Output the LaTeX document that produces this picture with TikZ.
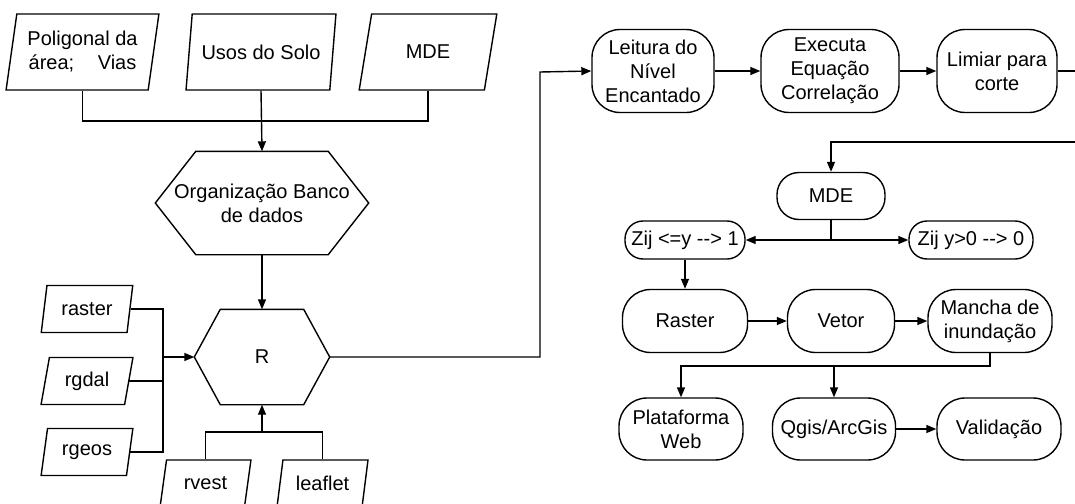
\documentclass[tikz,border=0pt]{standalone}
\usepackage{fontspec}
\setmainfont{Liberation Sans}
\usetikzlibrary{shapes.geometric,arrows.meta}

% hexagon drawn round a plain node: name, depth of the side points
\newcommand{\hexa}[2]{%
  \draw ([xshift=#2]#1.north west) -- ([xshift=-#2]#1.north east) -- (#1.east)
    -- ([xshift=-#2]#1.south east) -- ([xshift=#2]#1.south west) -- (#1.west) -- cycle;}

\begin{document}
\begin{tikzpicture}[x=1pt,y=-1pt,line width=1.4pt,
  >={Triangle[length=10pt,width=8pt]},
  every node/.style={font=\fontsize{20}{24}\selectfont, align=center, inner sep=1pt},
  dado/.style={draw, trapezium, trapezium stretches=true},
  passo/.style={draw, rounded corners=#1},
  passo/.default=28pt]

	\useasboundingbox (0,0) rectangle (1075,503);
	\clip (0,0) rectangle (1075,503);

	% dados de entrada
	\node[dado, trapezium left angle=78, trapezium right angle=102, minimum width=153, minimum height=76] (pol) at (82.5,52) {Poligonal da\\área;\hspace{0.9em} Vias};
	\node[dado, trapezium left angle=72, trapezium right angle=108, minimum width=150, minimum height=76] (uso) at (261,52) {Usos do Solo};
	\node[dado, trapezium left angle=72, trapezium right angle=108, minimum width=138, minimum height=76] (mde) at (428,52) {MDE};

	\node[minimum width=212, minimum height=102] (org) at (262,203) {Organização Banco\\de dados};
	\hexa{org}{40.5}
	\node[minimum width=134, minimum height=94] (r) at (262,357) {R};
	\hexa{r}{26}

	% pacotes
	\node[dado, trapezium left angle=76, trapezium right angle=104, minimum width=92, minimum height=47] (raster) at (87,309) {raster};
	\node[dado, trapezium left angle=76, trapezium right angle=104, minimum width=92, minimum height=47] (rgdal) at (87,381) {rgdal};
	\node[dado, trapezium left angle=76, trapezium right angle=104, minimum width=92, minimum height=47] (rgeos) at (87,452) {rgeos};
	\node[dado, trapezium left angle=76, trapezium right angle=104, minimum width=91, minimum height=47] (rvest) at (205.5,483.5) {rvest};
	\node[dado, trapezium left angle=76, trapezium right angle=104, minimum width=91, minimum height=47] (leaflet) at (322.5,483.5) {leaflet};

	% processamento
	\node[passo, minimum width=122, minimum height=83] (lei) at (653,71) {Leitura do\\Nível\\Encantado};
	\node[passo, minimum width=138, minimum height=83] (exe) at (830,71) {Executa\\Equação\\Correlação};
	\node[passo, minimum width=120, minimum height=83] (lim) at (997,71) {Limiar para\\corte};

	\node[passo=22pt, minimum width=108, minimum height=47] (mdeb) at (831,196) {MDE};
	\node[passo=18pt, minimum width=120, minimum height=38] (zle) at (685,240) {Zij <=y \mbox{-}\mbox{-}> 1};
	\node[passo=18pt, minimum width=124, minimum height=38] (zgt) at (971,240) {Zij y>0 \mbox{-}\mbox{-}> 0};

	\node[passo, minimum width=125, minimum height=63] (ras) at (685,321) {Raster};
	\node[passo, minimum width=107, minimum height=63] (vet) at (841,321) {Vetor};
	\node[passo, minimum width=124, minimum height=63] (man) at (990,321) {Mancha de\\inundação};

	\node[passo, minimum width=124, minimum height=62] (pla) at (681,429) {Plataforma\\Web};
	\node[passo, minimum width=123, minimum height=62] (qgi) at (834,429) {Qgis/ArcGis};
	\node[passo, minimum width=124, minimum height=62] (val) at (999,429) {Validação};

	% pontos de juncao
	\coordinate (jt) at (262,121);
	\coordinate (jl) at (163,357);
	\coordinate (jb) at (262,432);
	\coordinate (ju) at (540,72);
	\coordinate (jr) at (1090,142);
	\coordinate (jm) at (834,366);

	\draw (pol.south) |- (jt) -| (mde.south);
	\draw[->] (uso.south) -- (org.north);
	\draw[->] (org.south) -- (r.north);

	\draw (raster.east) -| (jl);
	\draw (rgeos.east) -| (jl);
	\draw (rgdal.east) -- (rgdal.east -| jl);
	\draw[->] (jl) -- (r.west);

	\draw (rvest.north) |- (jb) -| (leaflet.north);
	\draw[->] (jb) -- (r.south);

	\draw[->] (r.east) -| (ju) -- (lei.west);
	\draw[->] (lei) -- (exe);
	\draw[->] (exe) -- (lim);
	\draw[->] (lim.east) -| (jr) -| (mdeb.north);

	\draw[->] (mdeb.south) |- (zle.east);
	\draw[->] (mdeb.south) |- (zgt.west);
	\draw[->] (zle.south) -- (ras.north);
	\draw[->] (ras) -- (vet);
	\draw[->] (vet) -- (man);

	\draw[->] (man.south) |- (jm) -| (pla.north);
	\draw[->] (jm) -- (qgi.north);
	\draw[->] (qgi) -- (val);
\end{tikzpicture}
\end{document}
